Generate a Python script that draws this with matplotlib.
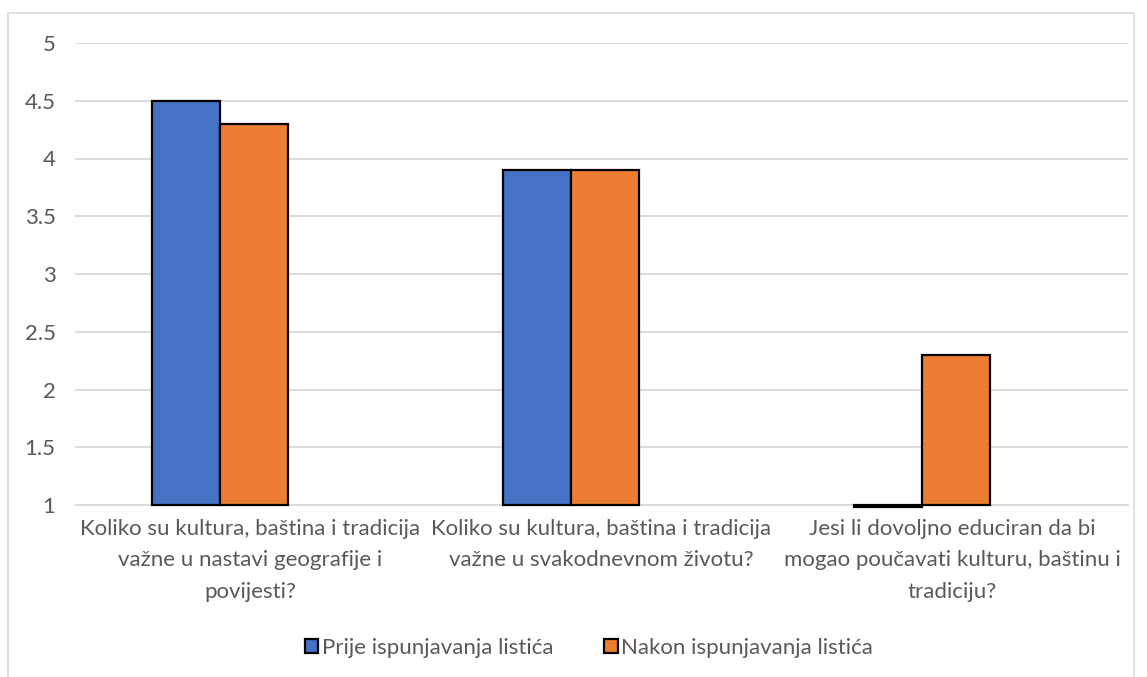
import numpy as np
import matplotlib
matplotlib.use("Agg")
import matplotlib.pyplot as plt
from matplotlib.patches import Rectangle

# data
categories = [
    "Koliko su kultura, baština i tradicija\nvažne u nastavi geografije i\npovijesti?",
    "Koliko su kultura, baština i tradicija\nvažne u svakodnevnom životu?",
    "Jesi li dovoljno educiran da bi\nmogao poučavati kulturu, baštinu i\ntradiciju?",
]
series_names = ["Prije ispunjavanja listića", "Nakon ispunjavanja listića"]
prije = [4.5, 3.9, 0.985]
nakon = [4.3, 3.9, 2.3]
y_ticks = [1, 1.5, 2, 2.5, 3, 3.5, 4, 4.5, 5]
y_tick_labels = ["1", "1.5", "2", "2.5", "3", "3.5", "4", "4.5", "5"]

blue = "#4472C4"
orange = "#ED7D31"
text_col = "#595959"
base = 1.0

plt.rcParams["font.family"] = ["Lato", "DejaVu Sans"]

fig = plt.figure(figsize=(11.47, 6.77), dpi=100)
W, H = 1147, 677
ax = fig.add_axes([75 / W, 1 - 505 / H, (1128 - 75) / W, (505 - 43) / H])

# outer chart border
fig.patches.append(Rectangle((8 / W, -0.05), (1134 - 8) / W, 1.05 - 13 / H,
                             transform=fig.transFigure, fill=False,
                             edgecolor="#D9D9D9", linewidth=1.2))

x = np.arange(len(categories))
w = 0.194
for vals, col, off, name in [(prije, blue, -0.184, series_names[0]),
                              (nakon, orange, 0.0105, series_names[1])]:
    ax.bar(x + off, np.array(vals) - base, bottom=base, width=w, color=col,
           edgecolor="black", linewidth=1.6, label=name, clip_on=False, zorder=3)

ax.set_xlim(-0.5, 2.5)
ax.set_ylim(1, 5)
ax.set_yticks(y_ticks)
ax.set_yticklabels(y_tick_labels)
ax.yaxis.grid(True, color="#D9D9D9", linewidth=1.3)
ax.set_axisbelow(True)
ax.set_xticks(x)
ax.set_xticklabels(categories, linespacing=1.72)
ax.tick_params(axis="both", length=0, labelsize=16, colors=text_col)
ax.tick_params(axis="y", pad=14)
ax.tick_params(axis="x", pad=10)
for s in ["top", "right", "left"]:
    ax.spines[s].set_visible(False)
ax.spines["bottom"].set_color("#D9D9D9")
ax.spines["bottom"].set_linewidth(1.3)

leg = fig.legend(loc="center", bbox_to_anchor=(589 / W, 1 - 648 / H), ncol=2,
                 frameon=False, fontsize=16, handlelength=0.6, handleheight=0.6,
                 handletextpad=0.15, columnspacing=2.3)
for t in leg.get_texts():
    t.set_color(text_col)

fig.savefig("out.png", dpi=100)
